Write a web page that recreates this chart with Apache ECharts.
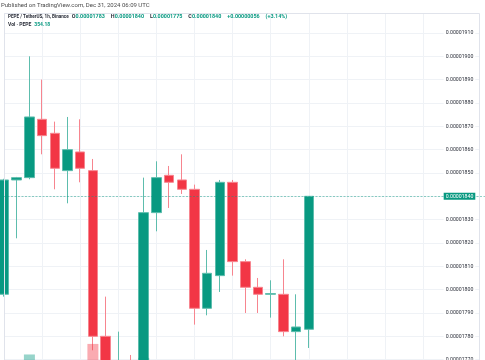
<!DOCTYPE html>
<html>
<head>
<meta charset="utf-8">
<script src="https://cdn.jsdelivr.net/npm/echarts@6/dist/echarts.min.js"></script>
<style>
  html, body { margin: 0; padding: 0; background: #ffffff; }
  #chart { width: 485px; height: 360px; }
</style>
</head>
<body>
<div id="chart"></div>
<script>
// Hourly slots (UTC): Dec 30 06:00 .. Dec 31 06:00 are candles, later slots are empty future space
const categories = [
  '12-30 06:00','12-30 07:00','12-30 08:00','12-30 09:00','12-30 10:00','12-30 11:00',
  '12-30 12:00','12-30 13:00','12-30 14:00','12-30 15:00','12-30 16:00','12-30 17:00',
  '12-30 18:00','12-30 19:00','12-30 20:00','12-30 21:00','12-30 22:00','12-30 23:00',
  '12-31 00:00','12-31 01:00','12-31 02:00','12-31 03:00','12-31 04:00','12-31 05:00',
  '12-31 06:00','12-31 07:00','12-31 08:00','12-31 09:00','12-31 10:00','12-31 11:00',
  '12-31 12:00','12-31 13:00','12-31 14:00','12-31 15:00','12-31 16:00','12-31 17:00',
  '12-31 18:00','12-31 19:00','12-31 20:00'
];
// Prices in units of 1e-8 USDT
const openE8  = [1798,1847,1848,1873,1867,1851,1859,1851,1780,1757,1766,1761,1833,1849,1847,1843,1792,1806,1846,1812,1801,1798,1798,1782,1783];
const closeE8 = [1847,1848,1874,1866,1852,1860,1852,1780,1763,1766,1761,1833,1848,1846,1843,1792,1807,1846,1812,1801,1798,1798.3,1782,1784,1840];
const lowE8   = [1797,1822,1847.3,1858,1843,1837,1846,1774,1758,1754,1755,1759,1825,1835,1841,1785,1789,1799,1806,1790,1790,1788,1780,1768,1775];
const highE8  = [1847.5,1848.3,1900,1890,1872,1874,1873,1856,1797,1782,1772,1848,1855,1853,1858,1845,1817,1847,1847,1813,1805,1804,1813,1798,1840];
const volume  = [300,180,466,260,220,200,150,541,410,330,240,442,300,170,160,380,250,350,290,200,150,140,260,230,354.18];
const priceTicksE8 = [1770,1780,1790,1800,1810,1820,1830,1840,1850,1860,1870,1880,1890,1900,1910];

const UP = '#089981', DOWN = '#f23645';
const fmt = v => (v * 1e-8).toFixed(8);

const n = openE8.length;
const candleData = openE8.map((o, i) => [o, closeE8[i], lowE8[i], highE8[i]]);
const volData = volume.map((v, i) => ({
  value: v,
  itemStyle: { color: closeE8[i] >= openE8[i] ? 'rgba(8,153,129,0.42)' : 'rgba(242,54,69,0.42)' }
}));
const lastO = openE8[n - 1], lastH = highE8[n - 1], lastL = lowE8[n - 1], lastC = closeE8[n - 1];
const prevC = closeE8[n - 2];
const chg = lastC - prevC;
const chgPct = (chg / prevC * 100).toFixed(2);
const sign = chg >= 0 ? '+' : '';

const FONT = 'Roboto';
const chart = echarts.init(document.getElementById('chart'), null, { renderer: 'canvas' });

const legendLine =
  '{t|PEPE / TetherUS, 1h, Binance}' +
  '{k|O}{v|' + fmt(lastO) + '}' +
  '{k|H}{v|' + fmt(lastH) + '}' +
  '{k|L}{v|' + fmt(lastL) + '}' +
  '{k|C}{v|' + fmt(lastC) + '}' +
  '{v|' + sign + fmt(chg) + '}' +
  '{w|(' + sign + chgPct + '%)}';

chart.setOption({
  animation: false,
  backgroundColor: '#ffffff',
  title: [
    { text: 'Published on TradingView.com, Dec 31, 2024 06:09 UTC', left: 1, top: 2.8, padding: 0, z: 8,
      textStyle: { fontSize: 6.0, fontWeight: 'normal', color: '#4a4a4a', fontFamily: FONT } },
    { text: legendLine, left: 8, top: 14.6, padding: 0, z: 8,
      textStyle: { fontSize: 5.4, fontFamily: FONT, rich: {
        t: { fontSize: 4.6, color: '#2a2e39', fontFamily: FONT, padding: [0, 3, 0, 0] },
        k: { fontSize: 5.4, color: '#2a2e39', fontFamily: FONT },
        v: { fontSize: 5.4, color: UP, fontFamily: FONT, padding: [0, 6, 0, 0] },
        w: { fontSize: 5.4, color: UP, fontFamily: FONT } } } },
    { text: '{t|Vol \u00b7 PEPE}{v|' + volume[n - 1].toFixed(2) + '}',
      left: 8, top: 22.3, padding: 0, z: 8,
      textStyle: { fontSize: 5, fontFamily: FONT, rich: {
        t: { fontSize: 5.0, color: '#2a2e39', fontFamily: FONT, padding: [0, 3, 0, 0] },
        v: { fontSize: 5.0, color: UP, fontFamily: FONT } } } }
  ],
  graphic: [
    { type: 'rect', z: 5, silent: true, shape: { x: 0, y: 0, width: 485, height: 13 }, style: { fill: '#ffffff' } },
    { type: 'rect', z: 5, silent: true, shape: { x: 479.5, y: 0, width: 6, height: 360 }, style: { fill: '#ffffff' } },
    { type: 'rect', z: 5, silent: true, shape: { x: 4.5, y: 13.5, width: 475, height: 360 },
      style: { fill: 'none', stroke: '#e0e3eb', lineWidth: 1 } }
  ],
  grid: [
    { left: 4, top: 9.63, width: 482.6, height: 373.34, outerBoundsMode: 'none', containLabel: false },
    { left: 4, top: 240, width: 482.6, height: 180, outerBoundsMode: 'none', containLabel: false }
  ],
  xAxis: [
    { type: 'category', gridIndex: 0, data: categories, boundaryGap: false,
      axisLine: { show: false }, axisTick: { show: false }, axisLabel: { show: false },
      splitLine: { show: true, interval: (idx) => idx % 3 === 0 && idx <= 33,
                   lineStyle: { color: '#eff2f6', width: 1 } } },
    { type: 'category', gridIndex: 1, data: categories, boundaryGap: false, show: false }
  ],
  yAxis: [
    { type: 'value', gridIndex: 0, position: 'right', min: 1760, max: 1920, interval: 10, z: 0,
      axisLine: { show: false }, axisTick: { show: false }, axisLabel: { show: false },
      splitLine: { show: true, showMinLine: false, showMaxLine: false, lineStyle: { color: '#eff2f6', width: 1 } } },
    { type: 'value', gridIndex: 0, position: 'right', min: 1760, max: 1920, interval: 10, z: 10,
      axisLine: { show: false }, axisTick: { show: false }, splitLine: { show: false },
      axisLabel: {
        show: true, inside: true, margin: 11.3,
        formatter: v => {
          if (priceTicksE8.indexOf(v) < 0) return '';
          return (v === lastC ? '{cur|' : '{n|') + fmt(v) + '}';
        },
        rich: {
          n: { fontSize: 5.2, fontFamily: FONT, color: '#2a2e39', backgroundColor: '#ffffff', padding: [0, 2] },
          cur: { fontSize: 5.2, fontFamily: FONT, color: '#ffffff', backgroundColor: UP, padding: [1, 2] }
        }
      } },
    { type: 'value', gridIndex: 1, min: 0, max: 1280, show: false, splitLine: { show: false } }
  ],
  series: [
    { type: 'bar', name: 'Vol', xAxisIndex: 1, yAxisIndex: 2, data: volData, barWidth: 11, z: 3 },
    { type: 'candlestick', name: 'PEPE/USDT', xAxisIndex: 0, yAxisIndex: 0, data: candleData,
      barWidth: 10, z: 2,
      itemStyle: { color: UP, color0: DOWN, borderColor: '#5dbdad', borderColor0: '#f7858f', borderWidth: 1 },
      markLine: {
        silent: true, symbol: 'none', label: { show: false },
        lineStyle: { color: 'rgba(8,153,129,0.45)', type: [2, 1.5], width: 1 },
        data: [{ yAxis: lastC }]
      } }
  ]
});
</script>
</body>
</html>
